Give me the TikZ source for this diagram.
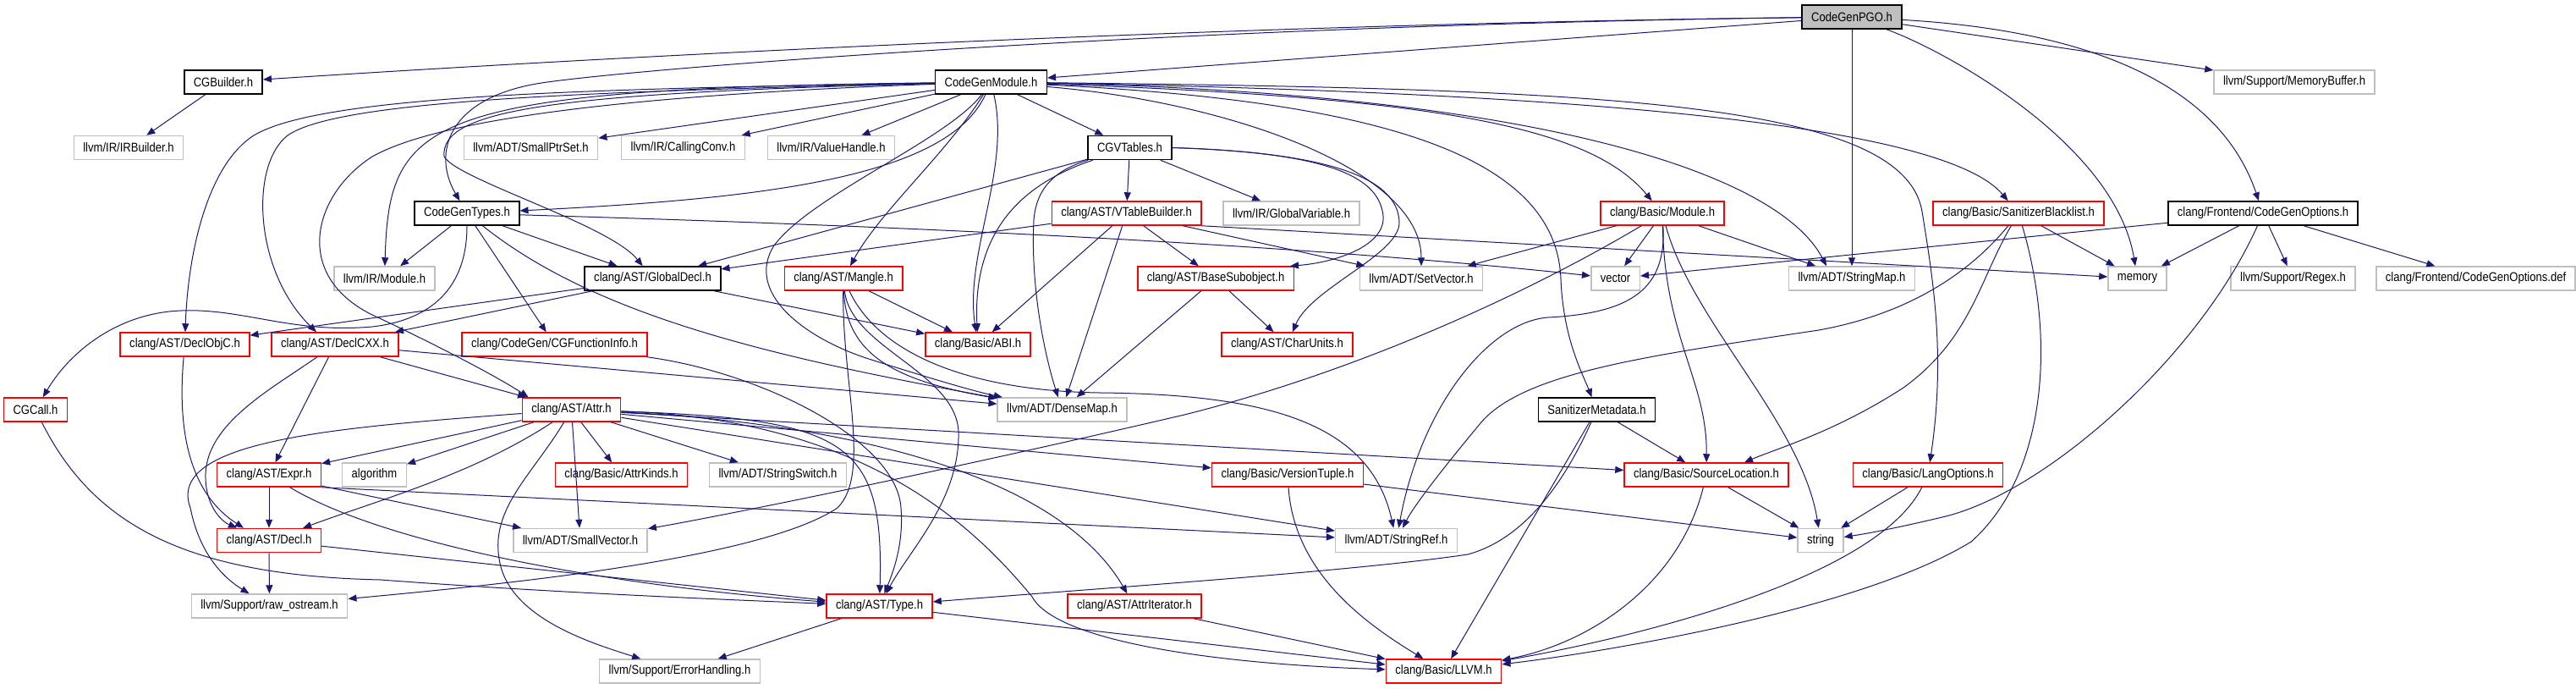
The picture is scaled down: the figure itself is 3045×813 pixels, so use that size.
\documentclass[tikz,border=0pt]{standalone}
\usepackage{fontspec}
\newfontfamily\dxfont[FakeStretch=0.87]{Liberation Sans}
\usepackage{tikz}
\usetikzlibrary{arrows.meta}
\definecolor{edgeblue}{RGB}{25,25,112}
\definecolor{boxred}{RGB}{255,0,0}
\definecolor{boxgray}{RGB}{191,191,191}
\tikzstyle{hfile} = [draw=black, rectangle, fill=white, line width=1.5bp,
    minimum height=28bp, inner xsep=11bp, inner ysep=0bp,
    font=\dxfont\fontsize{15bp}{17bp}\selectfont]
\tikzstyle{hred} = [hfile, draw=boxred]
\tikzstyle{hgray} = [hfile, draw=boxgray]
\tikzstyle{hroot} = [hfile, fill=boxgray]
\tikzstyle{dep} = [draw=edgeblue, line width=1bp, -{Triangle[length=10bp,width=8bp]}]

\begin{document}
\begin{tikzpicture}[x=1bp, y=-1bp]
  \fill [white] (0,0) rectangle (3045,813);
  \useasboundingbox (0,0) rectangle (3045,813);
  % Place nodes
  \node [hroot] (pgo) at (2189,20) {CodeGenPGO.h};
  \node [hfile] (cgb) at (264,97) {CGBuilder.h};
  \node [hfile] (cgm) at (1171.5,97) {CodeGenModule.h};
  \node [hgray] (mbuf) at (2712,97) {llvm/Support/MemoryBuffer.h};
  \node [hgray] (irb) at (152,174.5) {llvm/IR/IRBuilder.h};
  \node [hgray] (sptr) at (627.5,174.5) {llvm/ADT/SmallPtrSet.h};
  \node [hgray] (ccv) at (807.5,174.5) {llvm/IR/CallingConv.h};
  \node [hgray] (vhd) at (982.5,174.5) {llvm/IR/ValueHandle.h};
  \node [hfile] (cgvt) at (1335.5,174.5) {CGVTables.h};
  \node [hfile] (cgt) at (552,252) {CodeGenTypes.h};
  \node [hred] (vtb) at (1331.5,252) {clang/AST/VTableBuilder.h};
  \node [hgray] (gvar) at (1526.5,252) {llvm/IR/GlobalVariable.h};
  \node [hred] (bmod) at (1965,252) {clang/Basic/Module.h};
  \node [hred] (sbl) at (2386,252) {clang/Basic/SanitizerBlacklist.h};
  \node [hfile] (cgo) at (2675,252) {clang/Frontend/CodeGenOptions.h};
  \node [hgray] (irm) at (454.5,329) {llvm/IR/Module.h};
  \node [hfile] (gdecl) at (771.5,329) {clang/AST/GlobalDecl.h};
  \node [hred] (mngl) at (997,329) {clang/AST/Mangle.h};
  \node [hred] (bsub) at (1437,329) {clang/AST/BaseSubobject.h};
  \node [hgray] (svec) at (1680,329) {llvm/ADT/SetVector.h};
  \node [hgray] (vec) at (1909.5,329) {vector};
  \node [hgray] (smap) at (2189,329) {llvm/ADT/StringMap.h};
  \node [hgray] (mem) at (2526.5,329) {memory};
  \node [hgray] (rgx) at (2710.5,329) {llvm/Support/Regex.h};
  \node [hgray] (cgodef) at (2926.5,329) {clang/Frontend/CodeGenOptions.def};
  \node [hred] (dobjc) at (218.5,407) {clang/AST/DeclObjC.h};
  \node [hred] (dcxx) at (396,407) {clang/AST/DeclCXX.h};
  \node [hred] (cgfi) at (655.5,407) {clang/CodeGen/CGFunctionInfo.h};
  \node [hred] (abi) at (1156,407) {clang/Basic/ABI.h};
  \node [hred] (chu) at (1521.5,407) {clang/AST/CharUnits.h};
  \node [hred] (cgcall) at (42,484) {CGCall.h};
  \node [hred] (attr) at (675.5,484) {clang/AST/Attr.h};
  \node [hgray] (dmap) at (1255.5,484) {llvm/ADT/DenseMap.h};
  \node [hfile] (smeta) at (1887.5,484) {SanitizerMetadata.h};
  \node [hred] (expr) at (318,561) {clang/AST/Expr.h};
  \node [hgray] (algo) at (442.5,561) {algorithm};
  \node [hred] (akind) at (734.5,561) {clang/Basic/AttrKinds.h};
  \node [hgray] (sswitch) at (919.5,561) {llvm/ADT/StringSwitch.h};
  \node [hred] (vtup) at (1522,561) {clang/Basic/VersionTuple.h};
  \node [hred] (sloc) at (2017,561) {clang/Basic/SourceLocation.h};
  \node [hred] (lopt) at (2279,561) {clang/Basic/LangOptions.h};
  \node [hred] (decl) at (318,638.5) {clang/AST/Decl.h};
  \node [hgray] (svector) at (686,638.5) {llvm/ADT/SmallVector.h};
  \node [hgray] (sref) at (1650.5,638.5) {llvm/ADT/StringRef.h};
  \node [hgray] (str) at (2152,638.5) {string};
  \node [hgray] (rawos) at (318.5,716) {llvm/Support/raw\_ostream.h};
  \node [hred] (type) at (1039.5,716) {clang/AST/Type.h};
  \node [hred] (aiter) at (1341,716) {clang/AST/AttrIterator.h};
  \node [hgray] (errh) at (803.5,793) {llvm/Support/ErrorHandling.h};
  \node [hred] (llvm) at (1706.5,793) {clang/Basic/LLVM.h};

  % CodeGenPGO.h
  \draw [dep] (pgo) .. controls (1500,28) and (800,62) .. (cgb);
  \draw [dep] (pgo) -- (cgm);
  \draw [dep] (pgo) .. controls (1400,30) and (760,80) .. (640,98) .. controls (530,115) and (510,180) .. (cgt);
  \draw [dep] (pgo) -- (mbuf);
  \draw [dep] (pgo) -- (smap);
  \draw [dep] (pgo) .. controls (2300,60) and (2500,170) .. (mem);
  \draw [dep] (pgo) .. controls (2450,35) and (2620,90) .. (cgo);
  % CGBuilder.h
  \draw [dep] (cgb) -- (irb);
  % CodeGenModule.h
  \draw [dep] (cgm) -- (cgvt);
  \draw [dep] (cgm) -- (vhd);
  \draw [dep] (cgm) -- (ccv);
  \draw [dep] (cgm) -- (sptr);
  \draw [dep] (cgm) .. controls (1120,210) and (900,235) .. (cgt);
  \draw [dep] (cgm) .. controls (500,105) and (460,140) .. (irm);
  \draw [dep] (cgm) .. controls (650,110) and (520,130) .. (525,185) .. controls (540,212) and (720,265) .. (gdecl);
  \draw [dep] (cgm) .. controls (700,105) and (380,112) .. (300,160) .. controls (245,195) and (222,300) .. (dobjc);
  \draw [dep] (cgm) .. controls (700,108) and (400,118) .. (340,160) .. controls (295,195) and (300,320) .. ([xshift=-22bp]dcxx.north);
  \draw [dep] (cgm) .. controls (750,112) and (520,140) .. (440,185) .. controls (370,230) and (345,325) .. (440,372) .. controls (490,395) and (580,440) .. ([xshift=8bp]attr.north west);
  \draw [dep] (cgm) .. controls (1120,180) and (1040,250) .. (mngl);
  \draw [dep] (cgm) .. controls (1195,200) and (1140,300) .. (abi);
  \draw [dep] (cgm) .. controls (1120,165) and (960,230) .. (915,290) .. controls (880,345) and (950,400) .. (1030,425) .. controls (1100,447) and (1150,462) .. (dmap);
  \draw [dep] (cgm) .. controls (1450,120) and (1680,200) .. (svec);
  \draw [dep] (cgm) .. controls (1650,120) and (1840,190) .. (1845,330) .. controls (1848,400) and (1870,440) .. (smeta);
  \draw [dep] (cgm) .. controls (1700,115) and (1880,150) .. (bmod);
  \draw [dep] (cgm) .. controls (1800,110) and (2100,200) .. ([xshift=-30bp]smap.north);
  \draw [dep] (cgm) .. controls (1900,110) and (2300,150) .. (sbl);
  \draw [dep] (cgm) .. controls (1900,105) and (2250,120) .. (2272,250) .. controls (2285,330) and (2300,420) .. (lopt);
  % CGVTables.h
  \draw [dep] (cgvt) -- (vtb);
  \draw [dep] (cgvt) -- (gvar);
  \draw [dep] (cgvt) -- (gdecl);
  \draw [dep] (cgvt) .. controls (1200,220) and (1150,280) .. (abi);
  \draw [dep] (cgvt) .. controls (1250,200) and (1225,220) .. (1222,260) .. controls (1218,340) and (1235,420) .. (dmap);
  \draw [dep] (cgvt.east) .. controls (1560,180) and (1630,205) .. (1635,255) .. controls (1638,290) and (1580,310) .. ([xshift=-5bp]bsub.north east);
  \draw [dep] (cgvt.east) .. controls (1570,180) and (1652,210) .. (1654,262) .. controls (1656,300) and (1550,340) .. (chu);
  % CodeGenTypes.h
  \draw [dep] (cgt) -- (irm);
  \draw [dep] (cgt) -- (gdecl);
  \draw [dep] (cgt) -- (cgfi);
  \draw [dep] (cgt) .. controls (700,370) and (900,420) .. (dmap);
  \draw [dep] (cgt) .. controls (1000,265) and (1500,285) .. (vec);
  \draw [dep] (cgt) .. controls (552,340) and (510,378) .. (440,386) .. controls (340,395) and (280,360) .. (200,368) .. controls (130,376) and (80,420) .. (cgcall);
  % clang/AST/VTableBuilder.h
  \draw [dep] (vtb) -- (gdecl);
  \draw [dep] (vtb) -- (abi);
  \draw [dep] (vtb) -- (dmap);
  \draw [dep] (vtb) -- (bsub);
  \draw [dep] (vtb) -- (svec);
  \draw [dep] (vtb.south east) -- (mem);
  % clang/AST/GlobalDecl.h
  \draw [dep] (gdecl) -- (dobjc);
  \draw [dep] (gdecl) -- (dcxx);
  \draw [dep] (gdecl) -- (abi);
  % clang/AST/Mangle.h
  \draw [dep] (mngl) -- (abi);
  \draw [dep] (mngl) .. controls (1000,420) and (1060,450) .. (dmap);
  \draw [dep] (mngl) .. controls (1005,410) and (1130,440) .. (1133,510) .. controls (1135,590) and (1075,650) .. (type);
  \draw [dep] (mngl) .. controls (995,450) and (1030,560) .. (990,600) .. controls (900,660) and (600,690) .. (rawos);
  \draw [dep] (mngl) .. controls (1040,420) and (1150,462) .. (1300,464) .. controls (1500,466) and (1620,500) .. (sref);
  % clang/AST/BaseSubobject.h
  \draw [dep] (bsub) -- (chu);
  \draw [dep] (bsub) -- (dmap);
  % clang/CodeGen/CGFunctionInfo.h and CGCall.h
  \draw [dep] (cgfi) .. controls (900,440) and (1060,520) .. (1065,600) .. controls (1068,640) and (1058,670) .. (type);
  \draw [dep] (cgcall) .. controls (110,620) and (220,680) .. (450,685) .. controls (650,700) and (850,708) .. (type);
  % clang/AST/Attr.h
  \draw [dep] (attr) -- (expr);
  \draw [dep] (attr) -- (algo);
  \draw [dep] (attr) .. controls (560,560) and (450,590) .. (decl);
  \draw [dep] (attr) -- (akind);
  \draw [dep] (attr) -- (sswitch);
  \draw [dep] (attr) -- (svector);
  \draw [dep] (attr) .. controls (400,505) and (195,520) .. (225,600) .. controls (235,650) and (260,680) .. (rawos);
  \draw [dep] (attr) .. controls (630,560) and (580,600) .. (590,660) .. controls (600,730) and (700,760) .. (errh);
  \draw [dep] (attr) .. controls (1000,495) and (1045,520) .. (type);
  \draw [dep] (attr) -- (vtup);
  \draw [dep] (attr) -- (sloc);
  \draw [dep] (attr) .. controls (1020,495) and (1150,620) .. (1220,705) .. controls (1250,760) and (1450,785) .. (llvm);
  \draw [dep] (attr) -- (sref);
  \draw [dep] (attr) .. controls (1000,500) and (1250,560) .. (aiter);
  % clang/AST/DeclCXX.h and DeclObjC.h
  \draw [dep] (dcxx) -- (attr);
  \draw [dep] (dcxx) -- (expr);
  \draw [dep] (dcxx) .. controls (320,460) and (245,500) .. (243,560) .. controls (242,595) and (260,615) .. ([xshift=-38bp]decl.north);
  \draw [dep] (dcxx) -- (dmap);
  \draw [dep] (dobjc) .. controls (210,500) and (220,580) .. ([xshift=-30bp]decl.north);
  % clang/AST/Expr.h and Decl.h
  \draw [dep] (expr) -- (decl);
  \draw [dep] (expr) -- (svector);
  \draw [dep] (expr) .. controls (450,640) and (700,690) .. (type);
  \draw [dep] (expr.south east) -- (sref);
  \draw [dep] (decl) -- (rawos);
  \draw [dep] (decl) -- (type);
  % clang/AST/Type.h and AttrIterator.h
  \draw [dep] (type) -- (errh);
  \draw [dep] (type) -- (llvm);
  \draw [dep] (aiter) -- (llvm);
  % SanitizerMetadata.h
  \draw [dep] (smeta) -- (sloc);
  \draw [dep] (smeta) -- (llvm);
  \draw [dep] (smeta) .. controls (1840,590) and (1790,640) .. (1735,655) .. controls (1600,675) and (1300,695) .. (type);
  % clang/Basic/SanitizerBlacklist.h
  \draw [dep] (sbl) -- (mem);
  \draw [dep] (sbl) .. controls (2340,330) and (2330,400) .. (2250,458) .. controls (2170,510) and (2100,530) .. ([xshift=45bp]sloc.north);
  \draw [dep] (sbl) .. controls (2330,320) and (2260,370) .. (2150,390) .. controls (1950,420) and (1800,440) .. (1750,500) .. controls (1700,560) and (1670,600) .. (sref);
  \draw [dep] (sbl) .. controls (2430,400) and (2420,560) .. (2330,640) .. controls (2200,720) and (1900,770) .. (llvm);
  % clang/Frontend/CodeGenOptions.h
  \draw [dep] (cgo) -- (mem);
  \draw [dep] (cgo) -- (rgx);
  \draw [dep] (cgo) -- (cgodef);
  \draw [dep] (cgo) -- (vec);
  \draw [dep] (cgo) .. controls (2600,420) and (2420,580) .. (2300,610) .. controls (2250,622) and (2210,630) .. (str);
  % clang/Basic/Module.h
  \draw [dep] (bmod) -- (svec);
  \draw [dep] (bmod) -- (vec);
  \draw [dep] (bmod) -- (smap);
  \draw [dep] (bmod) .. controls (1968,400) and (2018,450) .. (sloc);
  \draw [dep] (bmod) .. controls (1970,340) and (1930,370) .. (1830,375) .. controls (1760,380) and (1680,480) .. (sref);
  \draw [dep] (bmod) .. controls (2000,380) and (2130,500) .. (str);
  \draw [dep] (bmod) .. controls (1800,350) and (1600,440) .. (1400,490) .. controls (1100,560) and (850,610) .. (svector);
  % clang/Basic/LangOptions.h, SourceLocation.h, VersionTuple.h
  \draw [dep] (lopt) -- (str);
  \draw [dep] (lopt) .. controls (2220,680) and (1950,750) .. (llvm);
  \draw [dep] (sloc) -- (str);
  \draw [dep] (sloc) .. controls (1985,690) and (1880,760) .. (llvm);
  \draw [dep] (vtup) -- (str);
  \draw [dep] (vtup) .. controls (1530,680) and (1620,740) .. (llvm);
\end{tikzpicture}
\end{document}
